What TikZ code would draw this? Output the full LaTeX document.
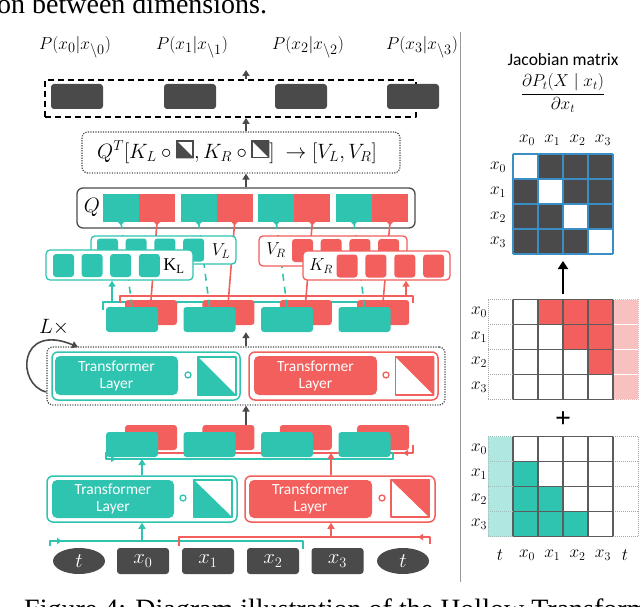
\documentclass[tikz,border=0pt]{standalone}
\usepackage{fontspec}
\setmainfont{Liberation Serif}
\newfontfamily\calib{Carlito}
\usetikzlibrary{arrows.meta,shapes.geometric}
\definecolor{tl}{HTML}{2EC4B0}
\definecolor{rd}{HTML}{F25F5C}
\definecolor{dk}{HTML}{4A4A4A}
\definecolor{pk}{HTML}{F9C0C0}
\definecolor{ltl}{HTML}{B0E8E1}
\definecolor{jb}{HTML}{3A8EC4}
\definecolor{gl}{HTML}{5C5C5C}
\newcommand\myfs[1]{\fontsize{#1}{#1}\selectfont}
\newcommand\symlow{\tikz[baseline={(0pt,0pt)},x=1pt,y=1pt,line join=miter]{\fill[dk] (0,0)--(0,18)--(18,0)--cycle; \draw[dk,line width=1.9pt] (0.95,0.95) rectangle (17.05,17.05);}}
\newcommand\symup{\tikz[baseline={(0pt,0pt)},x=1pt,y=1pt,line join=miter]{\fill[dk] (0,18)--(18,18)--(18,0)--cycle; \draw[dk,line width=1.9pt] (0.95,0.95) rectangle (17.05,17.05);}}
\begin{document}
\begin{tikzpicture}[x=1pt,y=-1pt,line join=round,
  arr/.style={draw=dk,line width=1.6pt,-{Triangle[width=7pt,length=6pt]}},
  tarr/.style={draw=tl,line width=1.6pt,-{Triangle[width=7pt,length=6pt]}},
  rarr/.style={draw=rd,line width=1.6pt,-{Triangle[width=7pt,length=6pt]}},
  dkbox/.style={fill=dk,rounded corners=3pt,minimum width=52pt,minimum height=25pt,inner sep=0pt},
  blk/.style={fill=#1,rounded corners=3pt,minimum width=52pt,minimum height=25pt,inner sep=0pt},
  qblk/.style={fill=#1,minimum width=36pt,minimum height=28pt,inner sep=0pt},
  sq/.style={fill=#1,rounded corners=3pt,minimum width=21pt,minimum height=23pt,inner sep=0pt},
  kv/.style={draw=#1,fill=white,line width=1.3pt,rounded corners=4pt,inner sep=0pt},
  dotbox/.style={draw=dk,line width=1.2pt,dash pattern=on 1.2pt off 1.3pt,rounded corners=6pt,inner sep=0pt},
  obox/.style={draw=#1,fill=white,line width=1.5pt,rounded corners=6pt,inner sep=0pt},
  ibox/.style={fill=#1,rounded corners=5pt,inner sep=0pt,text=white,align=center,font=\calib\fontsize{15.5}{17}\selectfont},
  ring/.style={circle,draw=#1,line width=1.3pt,minimum size=6pt,inner sep=0pt},
  icon/.style={draw=#1,line width=1.5pt,minimum width=38pt,minimum height=38pt,inner sep=0pt},
  brk/.style={draw=#1,line width=1.5pt},
  lab/.style={inner sep=0pt,font=\myfs{#1}},
  tok/.style={fill=dk,text=white,minimum width=52pt,minimum height=26pt,inner sep=0pt,font=\myfs{22}}
]
\useasboundingbox (0,0) rectangle (640,607);
\begin{scope}
\clip (0,0) rectangle (640,607);
\node[anchor=base west,inner sep=0pt,font=\fontsize{28}{30}\selectfont] (captop) at (-3,14) {on between dimensions.};
\node[anchor=base west,inner sep=0pt,font=\fontsize{28}{30}\selectfont] (capbot) at (24,618) {Figure 4: Diagram illustration of the Hollow Transformer};
\end{scope}
\coordinate (ax) at (246,0);
% separator
\draw[gray!80,line width=1pt] (460,32) -- (460,582);
% ---------- output row
\foreach \i/\x/\lx in {0/77/75,1/190/192,2/301/308,3/413/422}{
  \node[lab=19] (p\i) at (\lx,47) {$P(x_\i|x_{\setminus\i})$};
}
\node[draw=black,line width=1.8pt,dash pattern=on 6pt off 4pt,minimum width=371pt,minimum height=37pt,inner sep=0pt] (outb) at (230.5,98.5) {};
\foreach \i/\x in {0/77,1/190,2/301,3/413}{
  \node[dkbox] (o\i) at (\x,96.5) {};
}
\coordinate (outtop) at (246,70);
\draw[arr] (outb.north -| ax) -- (outtop);
% ---------- Q^T box
\node[dotbox,minimum width=318pt,minimum height=41pt] (qtbox) at (241,152.5) {};
\node[lab=21] (qtf) at (237,152) {$Q^T[K_L\circ\symlow, K_R\circ\symup]\ \rightarrow[V_L,V_R]$};
\draw[arr] (qtbox.north -| ax) -- (outb.south -| ax);
% ---------- Q row
\node[draw=dk,line width=1.3pt,rounded corners=6pt,minimum width=338pt,minimum height=40pt,inner sep=0pt,fill=white] (qbox) at (246,208) {};
\node[lab=22] (qlab) at (92,207) {$Q$};
\foreach \i in {0,...,3}{
  \node[qblk=tl] (qa\i) at ({121+77.67*\i},208) {};
  \node[qblk=rd] (qb\i) at ({157+77.67*\i},208) {};
  \fill[tl] ([xshift=-3pt]qa\i.south) -- ([xshift=3pt]qa\i.south) -- ([yshift=-3pt]qa\i.south) -- cycle;
  \fill[rd] ([xshift=-3pt]qb\i.south) -- ([xshift=3pt]qb\i.south) -- ([yshift=-3pt]qb\i.south) -- cycle;
}
\draw[arr] (qbox.north -| ax) -- (qtbox.south -| ax);
% ---------- middle block row
\draw[brk=tl] (103,310) -- (103,302) -- (395,302) -- (395,310);
\draw[brk=rd] (120,303) -- (120,296) -- (413,296) -- (413,303);
\foreach \i in {0,...,3}{
  \node[blk=rd] (mr\i) at ({151+77.4*\i},312.5) {};
}
\foreach \i in {0,...,3}{
  \node[blk=tl] (mt\i) at ({132+77.5*\i},319.5) {};
}
\foreach \i in {0,...,3}{
  \draw[tl,line width=1.6pt,dash pattern=on 7pt off 6pt] (qa\i.south) -- (mt\i.north);
  \draw[rd,line width=1.6pt] (qb\i.south) -- (mr\i.north);
}
% V and K boxes
\node[kv=tl,minimum width=145pt,minimum height=28pt] (vl) at (163.5,250) {};
\foreach \j in {0,...,3}{\node[sq=tl] (vls\j) at ({107.5+28.7*\j},250) {};}
\node[lab=18] (vllab) at (221,251) {$V_L$};
\node[kv=tl,minimum width=147pt,minimum height=30pt] (kl) at (119.5,265) {};
\foreach \j in {0,...,3}{\node[sq=tl] (kls\j) at ({63.5+28.6*\j},265.5) {};}
\node[lab=18] (kllab) at (174,266) {$\mathrm{K}_\mathrm{L}$};
\node[kv=rd,minimum width=148pt,minimum height=30pt] (vr) at (333,251) {};
\foreach \j in {0,...,3}{\node[sq=rd] (vrs\j) at ({302.5+28.7*\j},250.5) {};}
\node[lab=18] (vrlab) at (276,250) {$V_R$};
\node[kv=rd,minimum width=147pt,minimum height=29pt] (kr) at (376.5,265.5) {};
\foreach \j in {0,...,3}{\node[sq=rd] (krs\j) at ({347+28.9*\j},266) {};}
\node[lab=18] (krlab) at (321,266) {$K_R$};
\coordinate (tb1) at (112,302);
\coordinate (rb1) at (406,296);
\draw[tarr] (tb1) -- (kl.south -| tb1);
\draw[rarr] (rb1) -- (kr.south -| rb1);
% ---------- repeated transformer layer
\node[dotbox,minimum width=398pt,minimum height=58pt] (dot) at (246,376) {};
\node[obox=tl,minimum width=188pt,minimum height=48pt] (tlo2) at (146,376) {};
\node[ibox=tl,minimum width=123pt,minimum height=39pt] (tli2) at (116.5,375.5) {Transformer\\Layer};
\node[ring=tl] (tlc2) at (188,375) {};
\node[icon=tl] (tic2) at (217,376) {};
\fill[tl] (tic2.north west) -- (tic2.south west) -- (tic2.south east) -- cycle;
\node[obox=rd,minimum width=189pt,minimum height=48pt] (rlo2) at (343.5,376) {};
\node[ibox=rd,minimum width=123pt,minimum height=39pt] (rli2) at (315.5,375.5) {Transformer\\Layer};
\node[ring=rd] (rlc2) at (386,375) {};
\node[icon=rd] (ric2) at (414.5,376) {};
\fill[rd] (ric2.north west) -- (ric2.north east) -- (ric2.south east) -- cycle;
\draw[arr] (dot.north -| ax) -- (mt1.south -| ax);
% loop
\draw[draw=dk,line width=1.6pt,-{Triangle[width=7pt,length=6pt]}] (dot.west |- 0,392) .. controls (16,385) and (18,322) .. (78,347);
\node[lab=20] (loop) at (54,327) {$L\times$};
% ---------- lower block row
\draw[brk=rd] (120,445) -- (120,453) -- (413,453) -- (413,445);
\draw[rd,line width=1.5pt,-{Triangle[width=6pt,length=5pt]}] (413,453) -- (403,453);
\foreach \i in {0,...,3}{
  \node[blk=rd] (lr\i) at ({151+77.4*\i},437.5) {};
}
\foreach \i in {0,...,3}{
  \node[blk=tl] (lt\i) at ({132+77.5*\i},444.5) {};
}
\draw[brk=tl] (106,452) -- (106,459) -- (393,459) -- (393,452);
\draw[tl,line width=1.5pt,-{Triangle[width=6pt,length=5pt]}] (106,459) -- (116,459);
\draw[arr] (lr1.north -| ax) -- (dot.south -| ax);
% ---------- bottom transformer layer
\node[obox=tl,minimum width=190pt,minimum height=46pt] (tlo1) at (142,499) {};
\node[ibox=tl,minimum width=122pt,minimum height=38pt] (tli1) at (113,499) {Transformer\\Layer};
\node[ring=tl] (tlc1) at (183,498) {};
\node[icon=tl,minimum height=37pt] (tic1) at (213,498.5) {};
\fill[tl] (tic1.north west) -- (tic1.south west) -- (tic1.south east) -- cycle;
\node[obox=rd,minimum width=190pt,minimum height=46pt] (rlo1) at (340,499) {};
\node[ibox=rd,minimum width=123pt,minimum height=38pt] (rli1) at (310.5,499) {Transformer\\Layer};
\node[ring=rd] (rlc1) at (382,498) {};
\node[icon=rd,minimum height=37pt] (ric1) at (410,498.5) {};
\fill[rd] (ric1.north west) -- (ric1.north east) -- (ric1.south east) -- cycle;
\coordinate (tup) at (142,459);
\coordinate (rup) at (331,453);
\draw[tarr] (tlo1.north -| tup) -- (tup);
\draw[rarr] (rlo1.north -| rup) -- (rup);
% ---------- inputs
\draw[brk=tl] (50,546) -- (50,541) -- (303,541) -- (303,549);
\draw[tl,line width=1.5pt,-{Triangle[width=6pt,length=5pt]}] (50,541) -- (62,541);
\draw[brk=rd] (179,546) -- (179,537) -- (430,537) -- (430,544);
\draw[rd,line width=1.5pt,-{Triangle[width=6pt,length=5pt]}] (430,537) -- (418,537);
\coordinate (tin) at (142,541);
\coordinate (rin) at (331,537);
\draw[tarr] (tin) -- (tlo1.south -| tin);
\draw[rarr] (rin) -- (rlo1.south -| rin);
\node[tok,ellipse] (tk0) at (79,561) {$t$};
\foreach \i/\x in {0/143,1/208,2/273,3/337.5}{
  \node[tok,rounded corners=3pt] (xb\i) at (\x,561) {$x_\i$};
}
\node[tok,ellipse] (tk1) at (403,561) {$t$};
% ---------- Jacobian panel
\node[inner sep=0pt,font=\calib\myfs{17.5}] (jt) at (563,59) {Jacobian matrix};
\node[inner sep=0pt,font=\myfs{17.5}] (jf) at (563,93) {$\displaystyle\frac{\partial P_t(X\mid x_t)}{\partial x_t}$};
\foreach \r in {0,...,3}{\foreach \c in {0,...,3}{
  \ifnum\r=\c \fill[white] ({513+25*\c},{154+25*\r}) rectangle +(25,25);
  \else \fill[dk] ({513+25*\c},{154+25*\r}) rectangle +(25,25); \fi
}}
\foreach \k in {0,...,4}{
  \draw[jb,line width=1.5pt] ({513+25*\k},154) -- ({513+25*\k},254);
  \draw[jb,line width=1.5pt] (513,{154+25*\k}) -- (613,{154+25*\k});
}
\foreach \c in {0,...,3}{
  \node[lab=17] (jc\c) at ({527+25.3*\c},140) {$x_\c$};
  \node[lab=17] (jr\c) at (498,{167+25*\c}) {$x_\c$};
}
\coordinate (jaS) at (563,294);
\coordinate (jaE) at (563,261);
\draw[black,line width=2.6pt,-{Triangle[width=10pt,length=8pt]}] (jaS) -- (jaE);
% red (upper-triangular) grid
\foreach \r in {0,...,3}{
  \fill[pk] (613.8,{299.5+25*\r+0.8}) rectangle (637.5,{299.5+25*\r+24.2});
  \foreach \c in {0,...,3}{
    \ifnum\c>\r \fill[rd] ({513+25*\c},{299.5+25*\r}) rectangle +(25,25); \fi
  }
  \node[lab=17] (rr\r) at (479,{312+25*\r}) {$x_\r$};
}
\foreach \k in {0,...,4}{
  \draw[gl,line width=1.3pt] ({513+25*\k},299.5) -- ({513+25*\k},399.5);
  \draw[gl,line width=1.3pt] (513,{299.5+25*\k}) -- (613,{299.5+25*\k});
  \draw[gray!70,line width=1pt,dash pattern=on 1pt off 1pt] (488,{299.5+25*\k}) -- (513,{299.5+25*\k});
}
\draw[gray!70,line width=1pt,dash pattern=on 1pt off 1pt] (488,299.5) -- (488,399.5);
\draw[pk!80!gray,line width=1pt,dash pattern=on 1pt off 1pt] (613,299.5) -- (638,299.5) -- (638,399.5) -- (613,399.5);
\node[inner sep=0pt,font=\bfseries\myfs{28}] (plus) at (563,420) {+};
% teal (lower-triangular) grid
\foreach \r in {0,...,3}{
  \fill[ltl] (488,{436.5+25*\r}) rectangle (513,{436.5+25*\r+25});
  \foreach \c in {0,...,3}{
    \ifnum\r>\c \fill[tl] ({513+25*\c},{436.5+25*\r}) rectangle +(25,25); \fi
  }
  \node[lab=17] (tr\r) at (479,{449+25*\r}) {$x_\r$};
}
\foreach \k in {0,...,4}{
  \draw[gl,line width=1.3pt] ({513+25*\k},436.5) -- ({513+25*\k},536.5);
  \draw[gl,line width=1.3pt] (513,{436.5+25*\k}) -- (613,{436.5+25*\k});
  \draw[gray!70,line width=1pt,dash pattern=on 1pt off 1pt] (613,{436.5+25*\k}) -- (638,{436.5+25*\k});
  \draw[ltl!60!gray,line width=1pt,dash pattern=on 1pt off 1pt] (488,{436.5+25*\k}) -- (513,{436.5+25*\k});
}
\draw[gray!70,line width=1pt,dash pattern=on 1pt off 1pt] (638,436.5) -- (638,536.5);
\draw[ltl!60!gray,line width=1pt,dash pattern=on 1pt off 1pt] (488,436.5) -- (488,536.5);
\node[lab=17] (bt0) at (500,555) {$t$};
\foreach \c in {0,...,3}{
  \node[lab=17] (bx\c) at ({527+25.3*\c},555) {$x_\c$};
}
\node[lab=17] (bt1) at (625,555) {$t$};
\end{tikzpicture}
\end{document}
